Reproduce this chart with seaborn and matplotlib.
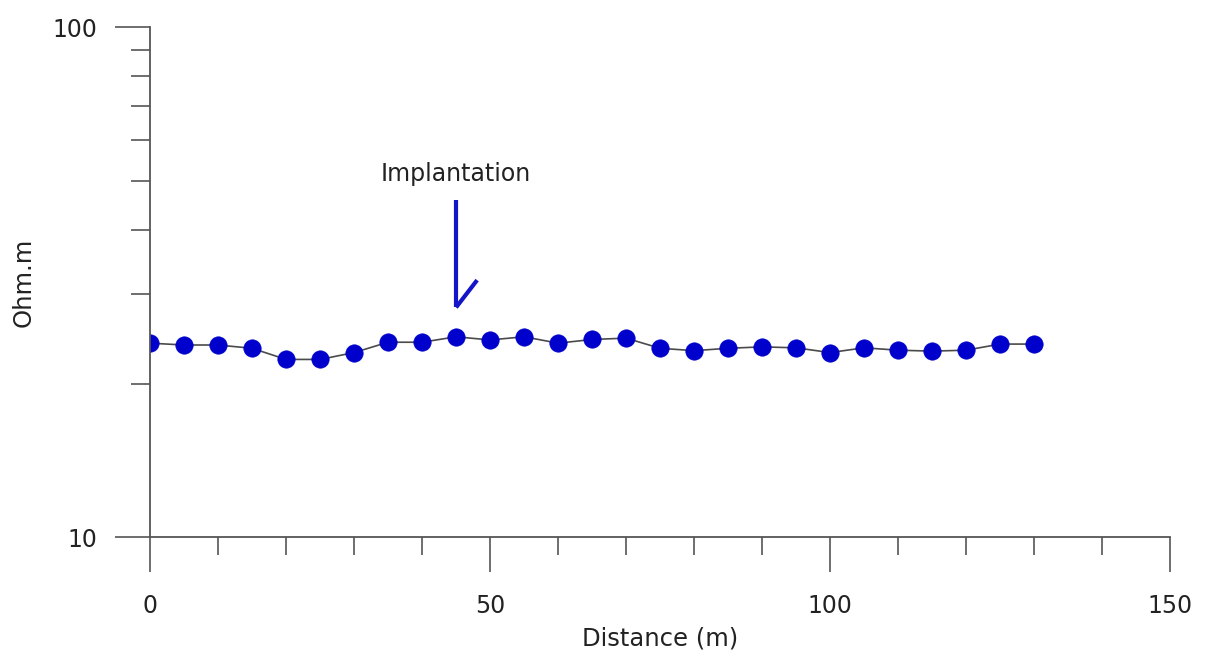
import seaborn as sns
import matplotlib.pyplot as plt
import matplotlib.ticker as mticker
import pandas as pd

# profile data (distance in m, apparent resistivity in Ohm.m)
distance = [0, 5, 10, 15, 20, 25, 30, 35, 40, 45, 50, 55, 60, 65,
            70, 75, 80, 85, 90, 95, 100, 105, 110, 115, 120, 125, 130]
resistivity = [24.0, 23.8, 23.8, 23.45, 22.3, 22.3, 23.0, 24.1, 24.1, 24.7,
               24.35, 24.7, 24.0, 24.4, 24.55, 23.45, 23.2, 23.45, 23.6, 23.5,
               23.0, 23.5, 23.25, 23.15, 23.25, 23.9, 23.9]

# annotation: label and arrow (data units)
note_text = "Implantation"
note_x = 45
note_text_y = 51.5
arrow_top = 45.8
arrow_tip = 28.2
barb_end = (48.1, 31.9)

df = pd.DataFrame({"Distance": distance, "Rho": resistivity})

sns.set_style("ticks")
plt.rcParams['font.family'] = ['DejaVu Sans']

fig = plt.figure(figsize=(12.1, 6.59), dpi=100)
ax = fig.add_axes([0.124, 0.185, 0.843, 0.774])

sns.lineplot(data=df, x="Distance", y="Rho", ax=ax, color="#4a4a4a", linewidth=1.2,
             marker="o", markersize=12.5, markerfacecolor="#0000cc",
             markeredgecolor="#0000cc", markeredgewidth=0.5)

ax.set_yscale("log")
ax.set_xlim(0, 150)
ax.set_ylim(10, 100)

ax.xaxis.set_major_locator(mticker.MultipleLocator(50))
ax.xaxis.set_minor_locator(mticker.MultipleLocator(10))
ax.yaxis.set_major_locator(mticker.FixedLocator([10, 100]))
ax.yaxis.set_major_formatter(mticker.FixedFormatter(["10", "100"]))
ax.yaxis.set_minor_locator(mticker.LogLocator(base=10, subs=range(2, 10)))
ax.yaxis.set_minor_formatter(mticker.NullFormatter())

spine_col = "#555555"
for s in ["top", "right"]:
    ax.spines[s].set_visible(False)
for s in ["left", "bottom"]:
    ax.spines[s].set_color(spine_col)
    ax.spines[s].set_linewidth(1.3)

ax.tick_params(axis="x", which="major", direction="out", length=25, width=1.2,
               color=spine_col, pad=16, labelsize=17, labelcolor="#222222")
ax.tick_params(axis="x", which="minor", direction="out", length=13, width=1.2,
               color=spine_col)
ax.tick_params(axis="y", which="major", direction="out", length=25, width=1.2,
               color=spine_col, pad=13, labelsize=17, labelcolor="#222222")
ax.tick_params(axis="y", which="minor", direction="out", length=14, width=1.2,
               color=spine_col)

ax.set_xlabel("Distance (m)", fontsize=17.5, color="#222222", labelpad=6)
ax.set_ylabel("Ohm.m", fontsize=17.5, color="#222222", labelpad=12)

# arrow pointing at the implantation position
ax.plot([note_x, note_x], [arrow_top, arrow_tip], color="#1414c8", lw=3,
        solid_capstyle="butt")
ax.plot([note_x, barb_end[0]], [arrow_tip, barb_end[1]], color="#1414c8", lw=3,
        solid_capstyle="butt")
ax.text(note_x, note_text_y, note_text, ha="center", va="center",
        fontsize=17, color="#222222")

plt.savefig("out.png", dpi=100)
